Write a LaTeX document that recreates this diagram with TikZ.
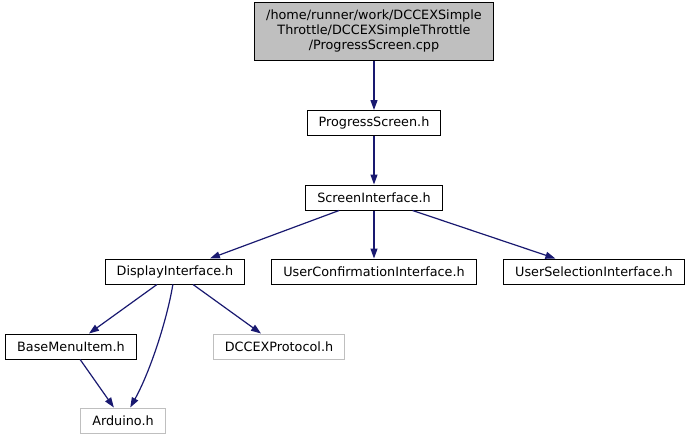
\documentclass[tikz,border=0pt]{standalone}
\usepackage{fontspec}
\setmainfont{DejaVu Sans}
\usetikzlibrary{arrows.meta}
\definecolor{edgeblue}{HTML}{191970}
\definecolor{nodegray}{HTML}{BFBFBF}

\begin{document}
\begin{tikzpicture}[x=1pt, y=-1pt,
        file/.style={draw=black, line width=1pt, inner xsep=11.5pt, minimum height=25pt,
                     font=\fontsize{12.8}{14.8}\selectfont},
        extfile/.style={file, draw=nodegray},
        dep/.style={edgeblue, line width=1.2pt, -{Triangle[length=10pt,width=7pt]}}]
        \useasboundingbox (0,0) rectangle (689,440);
        % Fitxers
        \node[file, fill=nodegray, align=center, minimum width=239pt, minimum height=58pt] (cpp) at (374,31)
            {/home/runner/work/DCCEXSimple\\Throttle/DCCEXSimpleThrottle\\/ProgressScreen.cpp};
        \node[file] (progress) at (374,123) {ProgressScreen.h};
        \node[file] (screen) at (374,197.5) {ScreenInterface.h};
        \node[file] (display) at (175,271.5) {DisplayInterface.h};
        \node[file] (confirm) at (374,271.5) {UserConfirmationInterface.h};
        \node[file] (select) at (594,271.5) {UserSelectionInterface.h};
        \node[file] (menuitem) at (71,346.5) {BaseMenuItem.h};
        \node[extfile] (protocol) at (279,346.5) {DCCEXProtocol.h};
        \node[extfile] (arduino) at (123,420.5) {Arduino.h};
        % Dependencies
        \draw[dep] (cpp) -- (progress);
        \draw[dep] (progress) -- (screen);
        \draw[dep] (screen) -- (display);
        \draw[dep] (screen) -- (confirm);
        \draw[dep] (screen) -- (select);
        \draw[dep] (display) -- (menuitem);
        \draw[dep] (display) .. controls (167,320) and (150,372) .. (arduino);
        \draw[dep] (display) -- (protocol);
        \draw[dep] (menuitem) -- (arduino);
\end{tikzpicture}
\end{document}
